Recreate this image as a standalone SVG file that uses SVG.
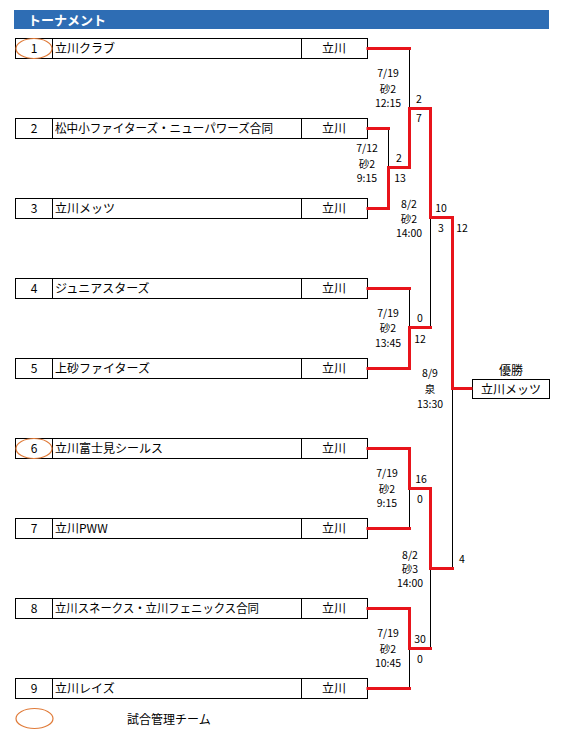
<svg xmlns="http://www.w3.org/2000/svg" width="565" height="739" viewBox="0 0 565 739">
<style>
.cell{fill:#fff;stroke:#000;stroke-width:1}
.t{font-family:"Noto Sans CJK JP","Liberation Sans",sans-serif;font-size:12px;fill:#000}
.c{text-anchor:middle}
.s{font-family:"Noto Sans CJK JP","Liberation Sans",sans-serif;font-size:10.5px;fill:#000;text-anchor:middle}
.r{fill:none;stroke:#e8141b;stroke-width:3;stroke-linecap:square}
.k{fill:none;stroke:#000;stroke-width:1}
.o{fill:none;stroke:#e07b39;stroke-width:1.2}
</style>
<rect width="565" height="739" fill="#fff"/>
<g id="header">
<rect x="14" y="10" width="535" height="19" fill="#2e6db4"/>
<text x="28" y="25" font-family="'Noto Sans CJK JP',sans-serif" font-size="13" font-weight="bold" fill="#fff">トーナメント</text>
</g>
<g id="team1"><rect class="cell" x="15.5" y="38.5" width="37" height="20"/><rect class="cell" x="52.5" y="38.5" width="249" height="20"/><rect class="cell" x="301.5" y="38.5" width="66" height="20"/><ellipse class="o" cx="34" cy="48.5" rx="18" ry="10"/><text class="t c" x="34" y="53">1</text><text class="t" x="55" y="53">立川クラブ</text><text class="t c" x="334" y="53">立川</text></g>
<g id="team2"><rect class="cell" x="15.5" y="118.5" width="37" height="20"/><rect class="cell" x="52.5" y="118.5" width="249" height="20"/><rect class="cell" x="301.5" y="118.5" width="66" height="20"/><text class="t c" x="34" y="133">2</text><text class="t" x="55" y="133" textLength="218" lengthAdjust="spacingAndGlyphs">松中小ファイターズ・ニューパワーズ合同</text><text class="t c" x="334" y="133">立川</text></g>
<g id="team3"><rect class="cell" x="15.5" y="198.5" width="37" height="20"/><rect class="cell" x="52.5" y="198.5" width="249" height="20"/><rect class="cell" x="301.5" y="198.5" width="66" height="20"/><text class="t c" x="34" y="213">3</text><text class="t" x="55" y="213">立川メッツ</text><text class="t c" x="334" y="213">立川</text></g>
<g id="team4"><rect class="cell" x="15.5" y="278.5" width="37" height="20"/><rect class="cell" x="52.5" y="278.5" width="249" height="20"/><rect class="cell" x="301.5" y="278.5" width="66" height="20"/><text class="t c" x="34" y="293">4</text><text class="t" x="55" y="293">ジュニアスターズ</text><text class="t c" x="334" y="293">立川</text></g>
<g id="team5"><rect class="cell" x="15.5" y="358.5" width="37" height="20"/><rect class="cell" x="52.5" y="358.5" width="249" height="20"/><rect class="cell" x="301.5" y="358.5" width="66" height="20"/><text class="t c" x="34" y="373">5</text><text class="t" x="55" y="373">上砂ファイターズ</text><text class="t c" x="334" y="373">立川</text></g>
<g id="team6"><rect class="cell" x="15.5" y="438.5" width="37" height="20"/><rect class="cell" x="52.5" y="438.5" width="249" height="20"/><rect class="cell" x="301.5" y="438.5" width="66" height="20"/><ellipse class="o" cx="34" cy="448.5" rx="18" ry="10"/><text class="t c" x="34" y="453">6</text><text class="t" x="55" y="453">立川富士見シールス</text><text class="t c" x="334" y="453">立川</text></g>
<g id="team7"><rect class="cell" x="15.5" y="518.5" width="37" height="20"/><rect class="cell" x="52.5" y="518.5" width="249" height="20"/><rect class="cell" x="301.5" y="518.5" width="66" height="20"/><text class="t c" x="34" y="533">7</text><text class="t" x="55" y="533">立川PWW</text><text class="t c" x="334" y="533">立川</text></g>
<g id="team8"><rect class="cell" x="15.5" y="598.5" width="37" height="20"/><rect class="cell" x="52.5" y="598.5" width="249" height="20"/><rect class="cell" x="301.5" y="598.5" width="66" height="20"/><text class="t c" x="34" y="613">8</text><text class="t" x="55" y="613" textLength="204" lengthAdjust="spacingAndGlyphs">立川スネークス・立川フェニックス合同</text><text class="t c" x="334" y="613">立川</text></g>
<g id="team9"><rect class="cell" x="15.5" y="678.5" width="37" height="20"/><rect class="cell" x="52.5" y="678.5" width="249" height="20"/><rect class="cell" x="301.5" y="678.5" width="66" height="20"/><text class="t c" x="34" y="693">9</text><text class="t" x="55" y="693">立川レイズ</text><text class="t c" x="334" y="693">立川</text></g>
<g id="champion"><text class="t c" x="511" y="375" font-size="14">優勝</text><rect class="cell" x="472.5" y="379.5" width="77" height="19"/><text class="t c" x="511" y="393.5" font-size="13.5">立川メッツ</text></g>
<g id="legend"><ellipse class="o" cx="34.5" cy="718.5" rx="18.5" ry="10"/><text class="t" x="127" y="724" font-size="13">試合管理チーム</text></g>
<g id="connectors">
<path class="k" d="M409.5 48V108M388.5 128V167M430.5 217V327M409.5 288V327M452.5 388V568M409.5 488V528M430.5 568V648M409.5 648V688"/>
<path class="r" d="M368 48.5H409.5M368 128.5H388.5M368 208.5H388.5V167.5H409.5V108.5H430.5V217.5H452.5V388.5H471"/>
<path class="r" d="M368 288.5H409.5M368 368.5H409.5V327.5H430.5"/>
<path class="r" d="M368 448.5H409.5V488.5H430.5V568.5H452.5M368 528.5H409.5"/>
<path class="r" d="M368 608.5H409.5V648.5H430.5M368 688.5H409.5"/>
</g>
<g id="labels">
<text class="s" x="388" y="77">7/19</text><text class="s" x="388" y="93">砂2</text><text class="s" x="388" y="107">12:15</text>
<text class="s" x="419" y="103">2</text><text class="s" x="419" y="122">7</text>
<text class="s" x="367" y="152">7/12</text><text class="s" x="367" y="168">砂2</text><text class="s" x="367" y="182">9:15</text>
<text class="s" x="399" y="162">2</text><text class="s" x="400" y="182">13</text>
<text class="s" x="409" y="208">8/2</text><text class="s" x="409" y="223">砂2</text><text class="s" x="409" y="237">14:00</text>
<text class="s" x="441" y="212">10</text><text class="s" x="441" y="232">3</text><text class="s" x="462" y="232">12</text>
<text class="s" x="388" y="317">7/19</text><text class="s" x="388" y="332">砂2</text><text class="s" x="388" y="347">13:45</text>
<text class="s" x="420" y="322">0</text><text class="s" x="420" y="343">12</text>
<text class="s" x="430" y="377">8/9</text><text class="s" x="430" y="392.5">泉</text><text class="s" x="430" y="408">13:30</text>
<text class="s" x="387" y="477">7/19</text><text class="s" x="387" y="493">砂2</text><text class="s" x="387" y="507">9:15</text>
<text class="s" x="421" y="483">16</text><text class="s" x="420" y="503">0</text>
<text class="s" x="410" y="559">8/2</text><text class="s" x="410" y="573">砂3</text><text class="s" x="410" y="587">14:00</text>
<text class="s" x="462" y="563">4</text>
<text class="s" x="388" y="637">7/19</text><text class="s" x="388" y="653">砂2</text><text class="s" x="388" y="667">10:45</text>
<text class="s" x="420" y="643">30</text><text class="s" x="420" y="663">0</text>
</g>
</svg>
